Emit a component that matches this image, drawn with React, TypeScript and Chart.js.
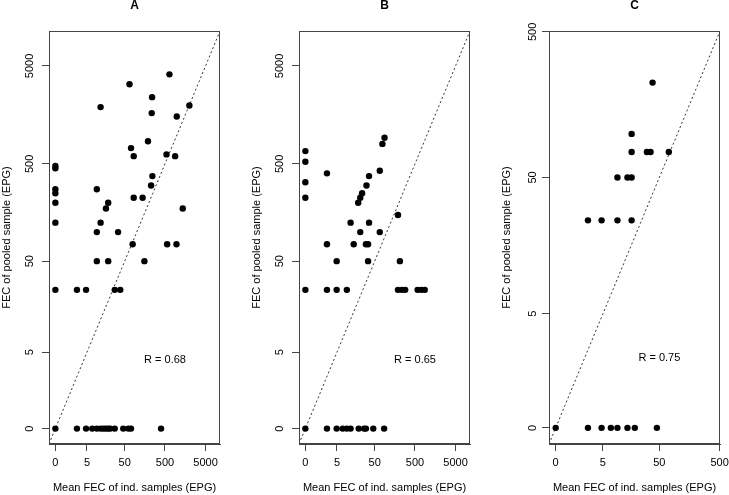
import React, { useEffect, useRef } from "react";
import { Chart, registerables } from "chart.js";

Chart.register(...registerables);
Chart.defaults.font.family = '"Liberation Sans", Arial, Helvetica, sans-serif';
Chart.defaults.color = "#000";

// Axis ticks (EPG), drawn on a log10(EPG + 1) scale
const tickValuesAB = [0, 5, 50, 500, 5000];
const tickLabelsAB = ["0", "5", "50", "500", "5000"];
const tickValuesC = [0, 5, 50, 500];
const tickLabelsC = ["0", "5", "50", "500"];

// Panel A
const aMeanInd = [
  644, 66, 240, 12, 2000, 235, 975, 190, 72, 84, 545, 890, 0, 0, 244, 227, 0, 0, 9.5, 0,
  19, 84, 140, 16.6, 1370, 0, 12, 9.5, 34, 79, 565, 960, 9.5, 19, 155, 0, 2.4, 4.7, 28, 38.7,
  0, 2.4, 4.7, 7.1, 9.5, 12, 14.2, 16.6, 19, 21.5, 28, 46, 62, 72, 400,
];
const aPooled = [
  4100, 3250, 2400, 1900, 1975, 1650, 1525, 850, 725, 600, 625, 600, 475, 450, 375, 300, 275, 250, 275, 200,
  200, 225, 225, 175, 175, 125, 125, 100, 100, 75, 75, 75, 50, 50, 50, 25, 25, 25, 25, 25,
  0, 0, 0, 0, 0, 0, 0, 0, 0, 0, 0, 0, 0, 0, 0,
];

// Panel B
const bMeanInd = [
  88, 78, 0, 0, 2.4, 67, 36, 31, 0, 24, 21.5, 19, 0, 190, 12, 36, 21.5, 67, 2.4, 14.5,
  30, 34, 4.9, 34, 212, 0, 2.4, 4.9, 9.5, 190, 238, 287, 580, 720, 870,
  0, 2.4, 4.9, 7.3, 9.5, 12, 19.6, 27, 30, 46, 86,
];
const bPooled = [
  925, 800, 675, 525, 400, 425, 375, 300, 325, 250, 225, 200, 225, 150, 125, 125, 100, 100, 75, 75,
  75, 75, 50, 50, 50, 25, 25, 25, 25, 25, 25, 25, 25, 25, 25,
  0, 0, 0, 0, 0, 0, 0, 0, 0, 0, 0,
];

// Panel C
const cMeanInd = [
  38.4, 16.8, 16.8, 30.8, 35.5, 72, 9.4, 14.2, 16.8, 2.4, 4.7, 9.4, 16.8,
  0, 2.4, 4.7, 7.1, 9.4, 14.2, 19.1, 45.4,
];
const cPooled = [
  225, 100, 75, 75, 75, 75, 50, 50, 50, 25, 25, 25, 25,
  0, 0, 0, 0, 0, 0, 0, 0,
];

const corrLabels = ["R = 0.68", "R = 0.65", "R = 0.75"];

const tf = (v: number) => Math.log10(v + 1);

const boxPlugin = {
  id: "rbox",
  afterDatasetsDraw(chart: any) {
    const { ctx, chartArea } = chart;
    const l = Math.round(chartArea.left) + 0.5;
    const t = Math.round(chartArea.top) + 0.5;
    const r = Math.round(chartArea.right) - 0.5;
    const b = Math.round(chartArea.bottom) - 0.5;
    ctx.save();
    ctx.strokeStyle = "#444";
    ctx.lineWidth = 1;
    ctx.strokeRect(l, t, r - l, b - t);
    ctx.restore();
  },
};

const rTextPlugin = {
  id: "rtext",
  afterDatasetsDraw(chart: any, _args: any, opts: any) {
    if (!opts || !opts.text) return;
    const { ctx } = chart;
    const px = chart.scales.x.getPixelForValue(tf(opts.x));
    const py = chart.scales.y.getPixelForValue(tf(opts.y));
    ctx.save();
    ctx.font = '11px "Liberation Sans", Arial, sans-serif';
    ctx.fillStyle = "#000";
    ctx.textAlign = "center";
    ctx.textBaseline = "middle";
    ctx.fillText(opts.text, px, py);
    ctx.restore();
  },
};

type PanelProps = {
  title: string;
  meanInd: number[];
  pooled: number[];
  tickValues: number[];
  tickLabels: string[];
  range: [number, number];
  corr: string;
  corrAt: [number, number];
  left: number;
};

function Panel(p: PanelProps) {
  const ref = useRef<HTMLCanvasElement | null>(null);
  useEffect(() => {
    if (!ref.current) return;
    const [lo, hi] = p.range;
    const points = p.meanInd.map((m, i) => ({ x: tf(m), y: tf(p.pooled[i]) }));
    const setTicks = (scale: any) => {
      scale.ticks = p.tickValues.map((v) => ({ value: tf(v) }));
    };
    const gridOpts = {
      display: true,
      drawOnChartArea: false,
      drawTicks: true,
      tickLength: 7,
      color: "#444",
      lineWidth: 1,
    };
    const chart = new Chart(ref.current, {
      type: "scatter",
      data: {
        datasets: [
          {
            type: "scatter",
            data: points,
            backgroundColor: "#000",
            borderColor: "#000",
            borderWidth: 0,
            pointRadius: 3.2,
            pointHoverRadius: 3.2,
          },
          {
            type: "line",
            data: [
              { x: lo, y: lo },
              { x: hi, y: hi },
            ],
            borderColor: "#333",
            borderWidth: 1,
            borderDash: [2, 2.5],
            pointRadius: 0,
            fill: false,
          } as any,
        ],
      },
      options: {
        responsive: false,
        animation: false,
        events: [],
        layout: { padding: { left: 0, right: 9, top: 0, bottom: 0 } },
        plugins: {
          legend: { display: false },
          tooltip: { enabled: false },
          title: {
            display: true,
            text: p.title,
            fullSize: false,
            color: "#000",
            font: { size: 12, weight: "bold", lineHeight: 0.9 },
            padding: { top: 0, bottom: 20.2 },
          },
          rtext: { text: p.corr, x: p.corrAt[0], y: p.corrAt[1] },
        } as any,
        scales: {
          x: {
            type: "linear",
            min: lo,
            max: hi,
            afterBuildTicks: setTicks,
            afterFit: (s: any) => {
              s.height = 51;
              s.paddingLeft = 0;
              s.paddingRight = 0;
            },
            grid: gridOpts,
            border: { display: true, color: "#444" },
            ticks: {
              autoSkip: false,
              maxRotation: 0,
              minRotation: 0,
              padding: 5.7,
              color: "#000",
              font: { size: 11 },
              callback: (_v: any, i: number) => p.tickLabels[i],
            },
            title: {
              display: true,
              text: "Mean FEC of ind. samples (EPG)",
              color: "#000",
              font: { size: 11 },
              padding: { top: 0, bottom: 0 },
            },
          },
          y: {
            type: "linear",
            min: lo,
            max: hi,
            afterBuildTicks: setTicks,
            afterFit: (s: any) => {
              s.width = 49;
            },
            grid: gridOpts,
            border: { display: true, color: "#444" },
            ticks: {
              autoSkip: false,
              minRotation: 90,
              maxRotation: 90,
              crossAlign: "center",
              padding: 0,
              color: "#000",
              font: { size: 11 },
              callback: (_v: any, i: number) => p.tickLabels[i],
            },
            title: {
              display: true,
              text: "FEC of pooled sample (EPG)",
              color: "#000",
              font: { size: 11 },
              padding: { top: 0.4, bottom: 0 },
            },
          },
        },
      } as any,
      plugins: [boxPlugin, rTextPlugin],
    });
    return () => chart.destroy();
  }, []);
  return (
    <canvas
      ref={ref}
      width={229}
      height={495}
      style={{ position: "absolute", left: p.left, top: 0, width: 229, height: 495 }}
    />
  );
}

export default function App() {
  return (
    <div
      style={{
        position: "absolute",
        left: 0,
        top: 0,
        width: 729,
        height: 495,
        background: "#fff",
        overflow: "hidden",
      }}
    >
      <Panel
        title="A"
        meanInd={aMeanInd}
        pooled={aPooled}
        tickValues={tickValuesAB}
        tickLabels={tickLabelsAB}
        range={[-0.157, 4.055]}
        corr={corrLabels[0]}
        corrAt={[500, 4]}
        left={0}
      />
      <Panel
        title="B"
        meanInd={bMeanInd}
        pooled={bPooled}
        tickValues={tickValuesAB}
        tickLabels={tickLabelsAB}
        range={[-0.157, 4.055]}
        corr={corrLabels[1]}
        corrAt={[500, 4]}
        left={250}
      />
      <Panel
        title="C"
        meanInd={cMeanInd}
        pooled={cPooled}
        tickValues={tickValuesC}
        tickLabels={tickLabelsC}
        range={[-0.11, 2.706]}
        corr={corrLabels[2]}
        corrAt={[50, 2]}
        left={500}
      />
    </div>
  );
}
